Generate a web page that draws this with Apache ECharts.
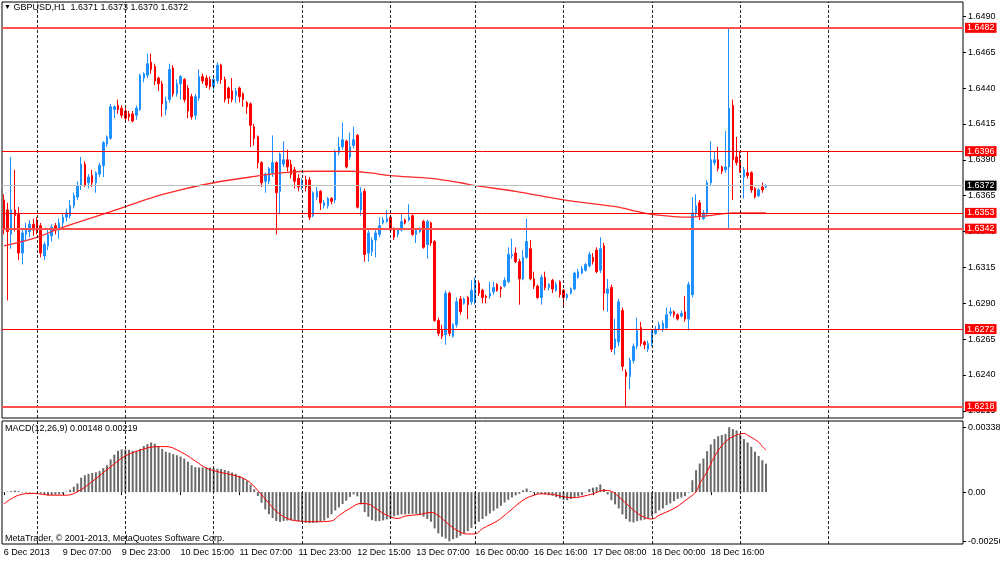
<!DOCTYPE html>
<html><head><meta charset="utf-8">
<script src="https://cdn.jsdelivr.net/npm/echarts@6/dist/echarts.min.js"></script>
<style>html,body{margin:0;padding:0;background:#fff}#c{width:1000px;height:562px}</style>
</head><body><div id="c"></div>
<script>
const symbolName = 'GBPUSD,H1';
// trading sessions: [day, first hour, last hour]
const sessions = [['6 Dec',15,23],['9 Dec',0,23],['10 Dec',0,23],['11 Dec',0,23],['12 Dec',0,23],['13 Dec',0,22],
  ['16 Dec',0,23],['17 Dec',0,23],['18 Dec',0,23],['19 Dec',0,23],['20 Dec',0,22],['23 Dec',0,13]];
const separatorDays = ['9 Dec','10 Dec','11 Dec','12 Dec','13 Dec','16 Dec','17 Dec','18 Dec','19 Dec','20 Dec'];
const xTickLabels = ['6 Dec 2013','9 Dec 07:00','9 Dec 23:00','10 Dec 15:00','11 Dec 07:00','11 Dec 23:00','12 Dec 15:00',
  '13 Dec 07:00','16 Dec 00:00','16 Dec 16:00','17 Dec 08:00','18 Dec 00:00','18 Dec 16:00'];
const priceTicks = [1.6215,1.6240,1.6265,1.6290,1.6315,1.6340,1.6365,1.6390,1.6415,1.6440,1.6465,1.6490];
const macdTicks = [0.00338, 0, -0.00256];
const levelsThin = [1.6396,1.6353,1.6272];
const levelsThick = [1.6482,1.6342,1.6218];

// [open, close, low, high]
const ohlc = [
[1.6362,1.6342,1.6338,1.6366],[1.6355,1.6340,1.6292,1.6360],[1.6338,1.6355,1.6328,1.6392],[1.6355,1.6351,1.6340,1.6383],
[1.6352,1.6325,1.6320,1.6357],[1.6325,1.6339,1.6317,1.6342],[1.6338,1.6341,1.6333,1.6346],[1.6340,1.6345,1.6336,1.6348],
[1.6345,1.6341,1.6337,1.6349],[1.6348,1.6340,1.6338,1.6350],[1.6344,1.6325,1.6322,1.6346],[1.6323,1.6331,1.6320,1.6333],
[1.6330,1.6338,1.6327,1.6341],[1.6337,1.6343,1.6333,1.6345],[1.6344,1.6341,1.6338,1.6346],[1.6341,1.6346,1.6335,1.6349],
[1.6346,1.6350,1.6343,1.6353],[1.6350,1.6353,1.6347,1.6356],[1.6351,1.6358,1.6349,1.6362],[1.6358,1.6365,1.6356,1.6367],
[1.6364,1.6372,1.6362,1.6375],[1.6372,1.6387,1.6369,1.6392],[1.6387,1.6372,1.6371,1.6389],[1.6374,1.6378,1.6370,1.6380],
[1.6379,1.6374,1.6371,1.6383],[1.6374,1.6381,1.6367,1.6382],[1.6380,1.6386,1.6378,1.6388],[1.6386,1.6402,1.6378,1.6403],
[1.6401,1.6406,1.6399,1.6407],[1.6405,1.6427,1.6404,1.6429],[1.6425,1.6427,1.6419,1.6428],[1.6428,1.6425,1.6422,1.6432],
[1.6426,1.6421,1.6419,1.6428],[1.6424,1.6419,1.6417,1.6426],[1.6422,1.6420,1.6417,1.6424],[1.6422,1.6417,1.6416,1.6424],
[1.6421,1.6426,1.6418,1.6428],[1.6425,1.6449,1.6424,1.6450],[1.6447,1.6450,1.6444,1.6451],[1.6449,1.6457,1.6447,1.6464],
[1.6458,1.6453,1.6450,1.6464],[1.6455,1.6445,1.6442,1.6457],[1.6447,1.6443,1.6438,1.6448],[1.6443,1.6429,1.6420,1.6445],
[1.6425,1.6431,1.6421,1.6434],[1.6432,1.6453,1.6430,1.6457],[1.6454,1.6436,1.6434,1.6456],[1.6436,1.6443,1.6434,1.6446],
[1.6443,1.6448,1.6432,1.6449],[1.6446,1.6432,1.6430,1.6447],[1.6440,1.6424,1.6419,1.6442],[1.6434,1.6420,1.6418,1.6436],
[1.6421,1.6434,1.6418,1.6436],[1.6433,1.6448,1.6431,1.6453],[1.6448,1.6445,1.6443,1.6450],[1.6447,1.6442,1.6440,1.6449],
[1.6446,1.6441,1.6439,1.6448],[1.6441,1.6446,1.6439,1.6448],[1.6445,1.6456,1.6443,1.6458],[1.6456,1.6446,1.6443,1.6457],
[1.6446,1.6432,1.6430,1.6448],[1.6440,1.6433,1.6429,1.6441],[1.6438,1.6432,1.6430,1.6447],[1.6435,1.6438,1.6430,1.6440],
[1.6440,1.6434,1.6430,1.6441],[1.6436,1.6432,1.6427,1.6437],[1.6430,1.6427,1.6422,1.6431],[1.6429,1.6414,1.6399,1.6430],
[1.6413,1.6405,1.6400,1.6415],[1.6406,1.6388,1.6384,1.6407],[1.6388,1.6374,1.6371,1.6389],[1.6375,1.6380,1.6367,1.6381],
[1.6375,1.6384,1.6373,1.6385],[1.6381,1.6388,1.6378,1.6407],[1.6388,1.6367,1.6338,1.6389],[1.6368,1.6394,1.6352,1.6395],
[1.6387,1.6390,1.6385,1.6403],[1.6390,1.6385,1.6382,1.6397],[1.6387,1.6380,1.6377,1.6390],[1.6383,1.6375,1.6370,1.6385],
[1.6377,1.6371,1.6368,1.6380],[1.6372,1.6374,1.6369,1.6377],[1.6376,1.6371,1.6368,1.6379],[1.6376,1.6350,1.6348,1.6378],
[1.6351,1.6367,1.6350,1.6368],[1.6364,1.6368,1.6362,1.6371],[1.6368,1.6360,1.6355,1.6369],[1.6358,1.6360,1.6356,1.6362],
[1.6358,1.6363,1.6356,1.6364],[1.6363,1.6361,1.6359,1.6364],[1.6362,1.6396,1.6360,1.6397],[1.6395,1.6399,1.6393,1.6406],
[1.6399,1.6404,1.6397,1.6416],[1.6403,1.6385,1.6384,1.6404],[1.6392,1.6399,1.6390,1.6409],[1.6400,1.6404,1.6398,1.6413],
[1.6407,1.6357,1.6356,1.6408],[1.6355,1.6367,1.6351,1.6371],[1.6368,1.6324,1.6319,1.6370],[1.6325,1.6339,1.6319,1.6341],
[1.6326,1.6334,1.6323,1.6336],[1.6334,1.6339,1.6322,1.6341],[1.6338,1.6344,1.6336,1.6350],[1.6346,1.6348,1.6345,1.6350],
[1.6347,1.6349,1.6346,1.6355],[1.6350,1.6341,1.6340,1.6351],[1.6342,1.6336,1.6334,1.6343],[1.6338,1.6341,1.6336,1.6342],
[1.6341,1.6347,1.6340,1.6352],[1.6348,1.6346,1.6345,1.6349],[1.6348,1.6350,1.6347,1.6359],[1.6351,1.6338,1.6337,1.6352],
[1.6338,1.6341,1.6332,1.6342],[1.6340,1.6342,1.6339,1.6343],[1.6347,1.6329,1.6328,1.6348],[1.6331,1.6347,1.6321,1.6348],
[1.6346,1.6332,1.6330,1.6347],[1.6333,1.6278,1.6277,1.6334],[1.6278,1.6269,1.6267,1.6280],[1.6271,1.6267,1.6265,1.6275],
[1.6268,1.6297,1.6261,1.6299],[1.6297,1.6269,1.6267,1.6298],[1.6267,1.6275,1.6266,1.6276],[1.6275,1.6291,1.6273,1.6294],
[1.6293,1.6284,1.6282,1.6295],[1.6290,1.6293,1.6289,1.6294],[1.6294,1.6289,1.6279,1.6295],[1.6291,1.6299,1.6289,1.6306],
[1.6291,1.6305,1.6289,1.6308],[1.6304,1.6297,1.6295,1.6306],[1.6299,1.6294,1.6290,1.6300],[1.6295,1.6294,1.6290,1.6296],
[1.6295,1.6297,1.6293,1.6305],[1.6298,1.6301,1.6296,1.6305],[1.6303,1.6299,1.6298,1.6304],[1.6301,1.6300,1.6294,1.6302],
[1.6302,1.6306,1.6301,1.6308],[1.6305,1.6324,1.6304,1.6329],[1.6323,1.6324,1.6321,1.6335],[1.6325,1.6319,1.6318,1.6329],
[1.6319,1.6307,1.6289,1.6321],[1.6307,1.6322,1.6306,1.6327],[1.6322,1.6333,1.6321,1.6349],[1.6328,1.6307,1.6306,1.6334],
[1.6307,1.6302,1.6300,1.6312],[1.6302,1.6294,1.6293,1.6303],[1.6294,1.6308,1.6289,1.6310],[1.6308,1.6301,1.6299,1.6312],
[1.6301,1.6303,1.6299,1.6304],[1.6306,1.6300,1.6297,1.6307],[1.6299,1.6303,1.6298,1.6305],[1.6305,1.6296,1.6294,1.6306],
[1.6299,1.6294,1.6287,1.6300],[1.6294,1.6296,1.6292,1.6297],[1.6297,1.6300,1.6296,1.6301],[1.6300,1.6311,1.6299,1.6312],
[1.6308,1.6312,1.6307,1.6314],[1.6311,1.6314,1.6310,1.6316],[1.6313,1.6317,1.6312,1.6318],[1.6316,1.6324,1.6315,1.6326],
[1.6322,1.6319,1.6317,1.6325],[1.6327,1.6312,1.6311,1.6329],[1.6313,1.6328,1.6311,1.6336],[1.6330,1.6297,1.6285,1.6332],
[1.6297,1.6300,1.6284,1.6307],[1.6301,1.6258,1.6256,1.6303],[1.6259,1.6265,1.6254,1.6279],[1.6263,1.6291,1.6260,1.6293],
[1.6285,1.6246,1.6243,1.6287],[1.6242,1.6239,1.6218,1.6244],[1.6239,1.6250,1.6230,1.6252],[1.6250,1.6260,1.6248,1.6262],
[1.6260,1.6271,1.6258,1.6280],[1.6273,1.6262,1.6260,1.6277],[1.6263,1.6261,1.6258,1.6264],[1.6258,1.6262,1.6256,1.6264],
[1.6262,1.6270,1.6260,1.6272],[1.6269,1.6272,1.6268,1.6274],[1.6272,1.6275,1.6271,1.6277],[1.6272,1.6276,1.6270,1.6278],
[1.6273,1.6282,1.6272,1.6287],[1.6283,1.6284,1.6281,1.6287],[1.6284,1.6282,1.6280,1.6285],[1.6282,1.6279,1.6278,1.6283],
[1.6281,1.6283,1.6280,1.6285],[1.6284,1.6279,1.6277,1.6295],[1.6279,1.6303,1.6271,1.6305],[1.6296,1.6353,1.6294,1.6364],
[1.6353,1.6358,1.6350,1.6366],[1.6360,1.6351,1.6348,1.6362],[1.6349,1.6353,1.6348,1.6355],[1.6353,1.6374,1.6351,1.6376],
[1.6374,1.6390,1.6372,1.6403],[1.6388,1.6390,1.6386,1.6396],[1.6390,1.6384,1.6382,1.6399],[1.6385,1.6382,1.6380,1.6386],
[1.6383,1.6385,1.6381,1.6410],[1.6385,1.6426,1.6341,1.6482],[1.6428,1.6390,1.6362,1.6432],[1.6392,1.6388,1.6386,1.6406],
[1.6388,1.6383,1.6381,1.6396],[1.6378,1.6383,1.6363,1.6385],[1.6381,1.6379,1.6377,1.6396],[1.6381,1.6369,1.6367,1.6382],
[1.6370,1.6364,1.6363,1.6371],[1.6365,1.6369,1.6364,1.6370],[1.6371,1.6369,1.6367,1.6374],[1.6371,1.6372,1.6370,1.6373]
];

// moving average read at selected bars: [bar index, value]
const maPoints = [[0,1.6330],[9,1.6336],[15,1.6342],[28,1.6353],[42,1.6365],[48,1.6369],[57,1.6374],[67,1.6378],
  [76,1.6381],[85,1.6382],[94,1.6382],[99,1.6381],[105,1.6379],[116,1.6377],[124,1.6374],[128,1.6372],[139,1.6368],
  [152,1.6362],[164,1.6358],[167,1.6357],[172,1.6354],[176,1.6352],[186,1.6350],[191,1.6351],[198,1.6353],[207,1.6353]];

const macdHist = [
-0.00002,0.00003,0.00005,0.00008,0.00004,-0.00002,-0.00003,-0.00003,-0.00002,-0.00003,
-0.00008,-0.00015,-0.00017,-0.00015,-0.00014,-0.00012,-0.00008,0.00003,0.00012,0.00028,
0.00045,0.00075,0.00088,0.00095,0.00100,0.00103,0.00110,0.00125,0.00140,0.00170,
0.00195,0.00215,0.00222,0.00222,0.00220,0.00215,0.00215,0.00225,0.00240,0.00250,
0.00258,0.00252,0.00240,0.00225,0.00210,0.00205,0.00198,0.00192,0.00185,0.00175,
0.00158,0.00140,0.00130,0.00128,0.00128,0.00128,0.00127,0.00125,0.00122,0.00120,
0.00115,0.00110,0.00102,0.00095,0.00085,0.00072,0.00058,0.00040,0.00015,-0.00020,
-0.00055,-0.00090,-0.00115,-0.00135,-0.00150,-0.00155,-0.00150,-0.00148,-0.00148,-0.00150,
-0.00152,-0.00155,-0.00160,-0.00162,-0.00160,-0.00158,-0.00154,-0.00148,-0.00135,-0.00115,
-0.00095,-0.00080,-0.00062,-0.00045,-0.00025,-0.00012,-0.00022,-0.00064,-0.00104,-0.00128,
-0.00146,-0.00151,-0.00151,-0.00147,-0.00142,-0.00137,-0.00125,-0.00120,-0.00116,-0.00116,
-0.00114,-0.00113,-0.00113,-0.00120,-0.00128,-0.00140,-0.00154,-0.00189,-0.00215,-0.00232,
-0.00241,-0.00256,-0.00245,-0.00238,-0.00227,-0.00215,-0.00203,-0.00186,-0.00168,-0.00154,
-0.00140,-0.00125,-0.00111,-0.00097,-0.00085,-0.00071,-0.00054,-0.00040,-0.00028,-0.00017,
-0.00009,0.00009,0.00019,0.00005,-0.00005,-0.00009,-0.00010,-0.00012,-0.00016,-0.00019,
-0.00026,-0.00033,-0.00040,-0.00042,-0.00036,-0.00029,-0.00023,-0.00016,-0.00002,0.00016,
0.00023,0.00026,0.00040,0.00016,-0.00012,-0.00042,-0.00064,-0.00085,-0.00116,-0.00140,
-0.00154,-0.00158,-0.00151,-0.00147,-0.00143,-0.00136,-0.00125,-0.00111,-0.00095,-0.00085,
-0.00068,-0.00059,-0.00047,-0.00036,-0.00028,-0.00021,-0.00003,0.00062,0.00114,0.00149,
0.00175,0.00213,0.00248,0.00276,0.00291,0.00297,0.00302,0.00338,0.00328,0.00321,
0.00300,0.00276,0.00258,0.00236,0.00210,0.00188,0.00166,0.00148
];

// signal line read at selected bars: [bar index, value]
const signalPoints = [[0,-0.00062],[4,-0.00016],[8,-0.00007],[13,-0.00016],[17,-0.00016],[20,0.00002],[24,0.00055],
  [29,0.00132],[33,0.00188],[37,0.00218],[41,0.00236],[44,0.00237],[48,0.00210],[52,0.00162],[55,0.00125],[59,0.00102],
  [62,0.00090],[66,0.00062],[69,0.00008],[72,-0.00058],[74,-0.00100],[77,-0.00137],[80,-0.00150],[85,-0.00154],
  [89,-0.00150],[91,-0.00122],[94,-0.00085],[97,-0.00059],[99,-0.00062],[101,-0.00085],[104,-0.00120],[107,-0.00137],
  [109,-0.00125],[113,-0.00116],[116,-0.00106],[118,-0.00122],[120,-0.00154],[123,-0.00198],[126,-0.00218],[128,-0.00217],
  [130,-0.00190],[134,-0.00150],[137,-0.00105],[141,-0.00042],[144,-0.00016],[146,-0.00009],[149,-0.00012],[152,-0.00024],
  [155,-0.00029],[157,-0.00023],[160,-0.00009],[163,0.00009],[165,0.00004],[167,-0.00024],[170,-0.00076],[173,-0.00122],
  [176,-0.00140],[178,-0.00120],[182,-0.00085],[185,-0.00045],[188,0.00002],[189,0.00045],[191,0.00106],[193,0.00185],
  [196,0.00262],[199,0.00297],[201,0.00305],[202,0.00296],[205,0.00260],[206,0.00237],[207,0.00219]];

// ---------- build ----------
const pad = n => (n < 10 ? '0' : '') + n;
const categories = [];
sessions.forEach(([d, a, b]) => { for (let h = a; h <= b; h++) categories.push(d + ' ' + pad(h) + ':00'); });
const tickIndex = xTickLabels.map((t, k) => k === 0 ? 0 : categories.indexOf(t));
const tickText = {}; tickIndex.forEach((ix, k) => { tickText[ix] = xTickLabels[k]; });
const isTick = (idx) => tickText[idx] !== undefined;

const last = ohlc[ohlc.length - 1];
const lastClose = last[1];
const f4 = v => v.toFixed(4);
const FONT = "'Liberation Sans', Arial, sans-serif";

const sepMark = {
  symbol: ['none', 'none'], silent: true, animation: false,
  label: { show: false },
  lineStyle: { color: '#000', width: 1, type: [3, 2], opacity: 0.85 },
  data: separatorDays.map(d => ({ xAxis: d + ' 00:00' }))
};
function levelMark(values, lineColor, width, boxColor) {
  return {
    symbol: ['none', 'none'], silent: true, animation: false, precision: 5,
    lineStyle: { color: lineColor, width: width, type: 'solid', opacity: 1 },
    label: { show: true, position: 'end', distance: 2, formatter: p => f4(p.value), color: '#fff',
      backgroundColor: boxColor, padding: [1, 2, 0, 2], fontSize: 9, fontFamily: FONT },
    emphasis: { disabled: true },
    data: values.map(v => ({ yAxis: v }))
  };
}

const chart = echarts.init(document.getElementById('c'), null, { renderer: 'canvas' });
chart.setOption({
  animation: false,
  backgroundColor: '#fff',
  textStyle: { fontFamily: FONT },
  title: [
    { text: '{a|▼} ' + symbolName + '  ' + [last[0], last[3], last[2], last[1]].map(f4).join(' '),
      left: 4, top: 3, padding: 0,
      textStyle: { fontSize: 9, fontWeight: 'normal', color: '#000', fontFamily: FONT,
        rich: { a: { fontSize: 7, color: '#000' } } } },
    { text: 'MACD(12,26,9) ' + macdHist[macdHist.length - 1].toFixed(5) + ' ' + signalPoints[signalPoints.length - 1][1].toFixed(5),
      left: 5, top: 424, padding: 0,
      textStyle: { fontSize: 9, fontWeight: 'normal', color: '#000', fontFamily: FONT } },
    { text: 'MetaTrader, © 2001-2013, MetaQuotes Software Corp.', left: 5, top: 534, padding: 0,
      textStyle: { fontSize: 9, fontWeight: 'normal', color: '#000', fontFamily: FONT } }
  ],
  grid: [
    { left: 2, top: 2, width: 961, height: 416, show: true, borderColor: '#000', borderWidth: 1,
      backgroundColor: '#fff', containLabel: false, outerBoundsMode: 'none' },
    { left: 2, top: 421, width: 961, height: 123, show: true, borderColor: '#000', borderWidth: 1,
      backgroundColor: '#fff', containLabel: false, outerBoundsMode: 'none' }
  ],
  xAxis: [
    { type: 'category', gridIndex: 0, data: categories, boundaryGap: true,
      axisLine: { show: false }, axisTick: { show: false }, axisLabel: { show: false }, splitLine: { show: false } },
    { type: 'category', gridIndex: 1, data: categories, boundaryGap: true,
      axisLine: { show: false },
      axisTick: { show: true, alignWithLabel: true, interval: isTick, length: 3, lineStyle: { color: '#000' } },
      axisLabel: { show: true, interval: isTick, formatter: (v, idx) => tickText[idx] || '', align: 'left',
        fontSize: 9, color: '#000', margin: 4, fontFamily: FONT, hideOverlap: false },
      splitLine: { show: false } }
  ],
  yAxis: [
    { type: 'value', gridIndex: 0, position: 'right', min: 1.6210, max: 1.6500,
      splitLine: { show: false }, axisLine: { show: false },
      axisTick: { show: true, customValues: priceTicks, length: 3, lineStyle: { color: '#000' } },
      axisLabel: { customValues: priceTicks, formatter: v => f4(v), fontSize: 9, color: '#000', margin: 5, fontFamily: FONT } },
    { type: 'value', gridIndex: 1, position: 'right', min: -0.0027, max: 0.0037,
      splitLine: { show: false }, axisLine: { show: false },
      axisTick: { show: true, customValues: macdTicks, length: 3, lineStyle: { color: '#000' } },
      axisLabel: { customValues: macdTicks, formatter: v => Math.abs(v) < 1e-9 ? '0.00' : v.toFixed(5),
        fontSize: 9, color: '#000', margin: 5, fontFamily: FONT } }
  ],
  series: [
    { type: 'line', xAxisIndex: 0, yAxisIndex: 0, data: [], z: 1, markLine: sepMark },
    { type: 'line', xAxisIndex: 0, yAxisIndex: 0, data: [], z: 2, color: '#c0c0c0',
      markLine: levelMark([lastClose], '#c0c0c0', 1, '#000') },
    { type: 'candlestick', xAxisIndex: 0, yAxisIndex: 0, data: ohlc, barWidth: 2, z: 3,
      itemStyle: { color: '#1E90FF', color0: '#FF0000', borderColor: '#1E90FF', borderColor0: '#FF0000', borderWidth: 1 } },
    { type: 'line', xAxisIndex: 0, yAxisIndex: 0, data: maPoints, smooth: 0.3, symbol: 'none', z: 4,
      lineStyle: { color: '#ff2a2a', width: 1.3 } },
    { type: 'line', xAxisIndex: 0, yAxisIndex: 0, data: [], z: 5, color: '#ff0000',
      markLine: levelMark(levelsThin, '#ff0000', 1, '#ff0000') },
    { type: 'line', xAxisIndex: 0, yAxisIndex: 0, data: [], z: 5, color: '#ff5050',
      markLine: levelMark(levelsThick, '#ff5050', 2, '#ff0000') },
    { type: 'line', xAxisIndex: 1, yAxisIndex: 1, data: [], z: 1, markLine: sepMark },
    { type: 'bar', xAxisIndex: 1, yAxisIndex: 1, data: macdHist, barWidth: 2, z: 3,
      itemStyle: { color: '#6a6a6a' } },
    { type: 'line', xAxisIndex: 1, yAxisIndex: 1, data: signalPoints, smooth: 0.4, symbol: 'none', z: 4,
      lineStyle: { color: '#ff0000', width: 1 } }
  ]
});
</script>
</body></html>
